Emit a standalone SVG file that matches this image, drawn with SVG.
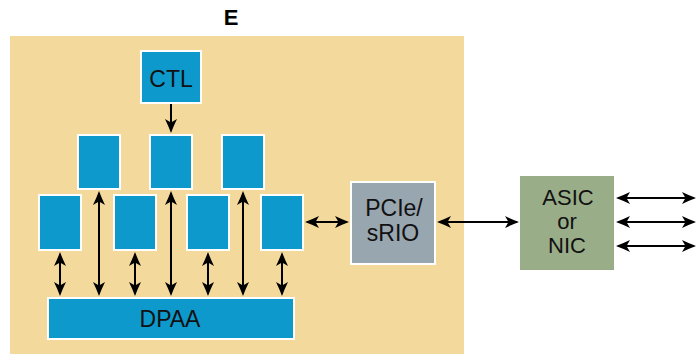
<svg xmlns="http://www.w3.org/2000/svg" width="696" height="354" viewBox="0 0 696 354">
  <style>
    .lbl { font-family: "Liberation Sans", Arial, sans-serif; font-size: 23px; fill: #111; text-anchor: middle; }
    .sm { font-size: 22px; }
    .title { font-family: "Liberation Sans", Arial, sans-serif; font-size: 22px; font-weight: bold; fill: #000; text-anchor: middle; }
    .core { fill: #0d99cc; stroke: #fff; stroke-width: 2; }
    .pcie { fill: #98a6af; stroke: #fff; stroke-width: 2; }
    .asic { fill: #9aad89; }
    .link { stroke: #000; stroke-width: 2; fill: none; marker-end: url(#head); }
    .both { marker-start: url(#head); }
  </style>
  <defs>
    <marker id="head" markerUnits="userSpaceOnUse" markerWidth="18" markerHeight="16" viewBox="0 -8 18 16" refX="12" refY="0" orient="auto-start-reverse">
      <path d="M0,-6 Q6.5,-2.8 14,0 Q6.5,2.8 0,6 L3.5,0 z" fill="#000"/>
    </marker>
  </defs>

  <!-- title -->
  <text class="title" x="231" y="25">E</text>

  <!-- SoC panel -->
  <rect x="10" y="36" width="454" height="318" fill="#f3da9c"/>

  <g id="ctl">
    <rect class="core" x="141" y="51" width="60" height="52"/>
    <text class="lbl" x="171" y="87">CTL</text>
  </g>

  <g id="core-t1"><rect class="core" x="78" y="135" width="42" height="54"/></g>
  <g id="core-t2"><rect class="core" x="150" y="135" width="42" height="54"/></g>
  <g id="core-t3"><rect class="core" x="222" y="135" width="42" height="54"/></g>

  <g id="core-b1"><rect class="core" x="39" y="195" width="42" height="55"/></g>
  <g id="core-b2"><rect class="core" x="114" y="195" width="42" height="55"/></g>
  <g id="core-b3"><rect class="core" x="187" y="195" width="42" height="55"/></g>
  <g id="core-b4"><rect class="core" x="261" y="195" width="42" height="55"/></g>

  <g id="dpaa">
    <rect class="core" x="48" y="298" width="246" height="41"/>
    <text class="lbl" x="170" y="327">DPAA</text>
  </g>

  <g id="pcie">
    <rect class="pcie" x="351" y="182" width="84" height="82"/>
    <text class="lbl" x="394" y="216">PCIe/</text>
    <text class="lbl" x="393" y="241">sRIO</text>
  </g>

  <g id="asic">
    <rect class="asic" x="520" y="176" width="94" height="94"/>
    <text class="lbl sm" x="568" y="205">ASIC</text>
    <text class="lbl sm" x="567" y="229">or</text>
    <text class="lbl sm" x="567" y="253">NIC</text>
  </g>

  <g id="connectors">
    <!-- control to middle core -->
    <line class="link" x1="171" y1="104" x2="171" y2="131"/>
    <!-- top-row cores to DPAA -->
    <line class="link both" x1="99" y1="193" x2="99" y2="294"/>
    <line class="link both" x1="171" y1="193" x2="171" y2="294"/>
    <line class="link both" x1="243" y1="193" x2="243" y2="294"/>
    <!-- bottom-row cores to DPAA -->
    <line class="link both" x1="60" y1="254" x2="60" y2="294"/>
    <line class="link both" x1="135" y1="254" x2="135" y2="294"/>
    <line class="link both" x1="208" y1="254" x2="208" y2="294"/>
    <line class="link both" x1="282" y1="254" x2="282" y2="294"/>
    <!-- core to PCIe/sRIO -->
    <line class="link both" x1="307" y1="222" x2="347" y2="222"/>
    <!-- PCIe/sRIO to ASIC -->
    <line class="link both" x1="439" y1="222" x2="517" y2="222"/>
    <!-- ASIC outputs -->
    <line class="link both" x1="618" y1="198" x2="694" y2="198"/>
    <line class="link both" x1="618" y1="222" x2="694" y2="222"/>
    <line class="link both" x1="618" y1="246" x2="694" y2="246"/>
  </g>
</svg>
